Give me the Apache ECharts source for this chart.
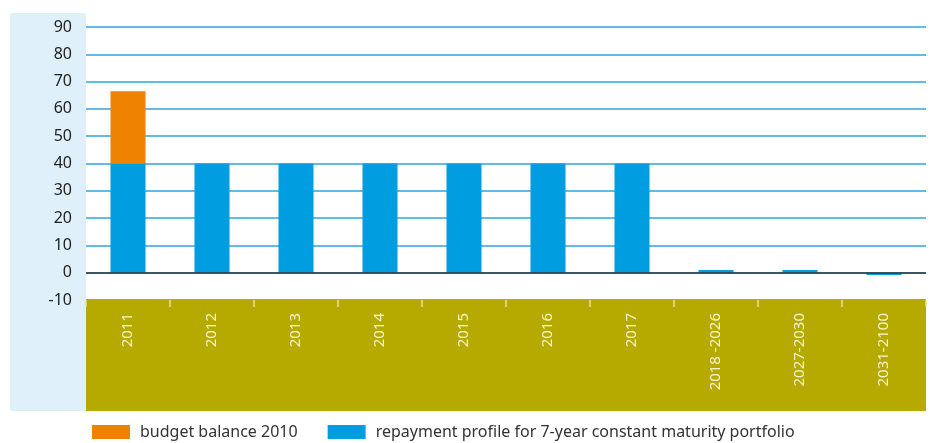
<!DOCTYPE html>
<html>
<head>
<meta charset="utf-8">
<script src="https://cdn.jsdelivr.net/npm/echarts@6/dist/echarts.min.js"></script>
<style>html,body{margin:0;padding:0;background:#fff}#c{width:933px;height:443px}</style>
</head>
<body>
<div id="c"></div>
<script>
const categories = ['2011','2012','2013','2014','2015','2016','2017','2018 -2026','2027-2030','2031-2100'];
const repayment = [40,40,40,40,40,40,40,1,1,-0.8];
const budgetBalance = [26.5,'-','-','-','-','-','-','-','-','-'];
const yTicks = {min:-10, max:90, interval:10};
const seriesNames = ['budget balance 2010','repayment profile for 7-year constant maturity portfolio'];

const chart = echarts.init(document.getElementById('c'), null, {renderer:'canvas'});
const font = 'Noto Sans';
chart.setOption({
  animation:false,
  grid:{left:86,right:7,top:27,bottom:143,containLabel:false},
  graphic:[
    {type:'rect',z:-10,shape:{x:10,y:13,width:76,height:398},style:{fill:'#dff0fa'},silent:true},
    {type:'rect',z:1,shape:{x:86,y:299,width:840,height:112},style:{fill:'#b6aa00'},silent:true}
  ],
  legend:{
    left:87, top:419, itemWidth:38, itemHeight:14, itemGap:30, icon:'rect',
    data:[seriesNames[0],seriesNames[1]],
    textStyle:{fontFamily:font,fontSize:16,color:'#333',padding:[0,0,0,5]}
  },
  xAxis:{
    type:'category', data:categories, position:'bottom', z:5,
    axisLine:{show:false,onZero:false},
    axisTick:{show:true,length:7,lineStyle:{color:'#e6df9a',width:1.5}},
    axisLabel:{rotate:90,margin:13,color:'#f6f2cf',fontFamily:font,fontSize:15}
  },
  yAxis:{
    type:'value', min:yTicks.min, max:yTicks.max, interval:yTicks.interval,
    axisLine:{show:false}, axisTick:{show:false},
    axisLabel:{margin:14,color:'#222',fontFamily:font,fontSize:16},
    splitLine:{lineStyle:{color:'#2fa3db',width:1.5}}
  },
  series:[
    {name:seriesNames[1],type:'bar',stack:'a',data:repayment,barWidth:35,
     itemStyle:{color:'#009ee0'},
     markLine:{silent:true,symbol:'none',label:{show:false},
       lineStyle:{color:'#333',width:1.5,type:'solid'},data:[{yAxis:0}]}},
    {name:seriesNames[0],type:'bar',stack:'a',data:budgetBalance,barWidth:35,
     itemStyle:{color:'#ef8200'}}
  ]
});
</script>
</body>
</html>
